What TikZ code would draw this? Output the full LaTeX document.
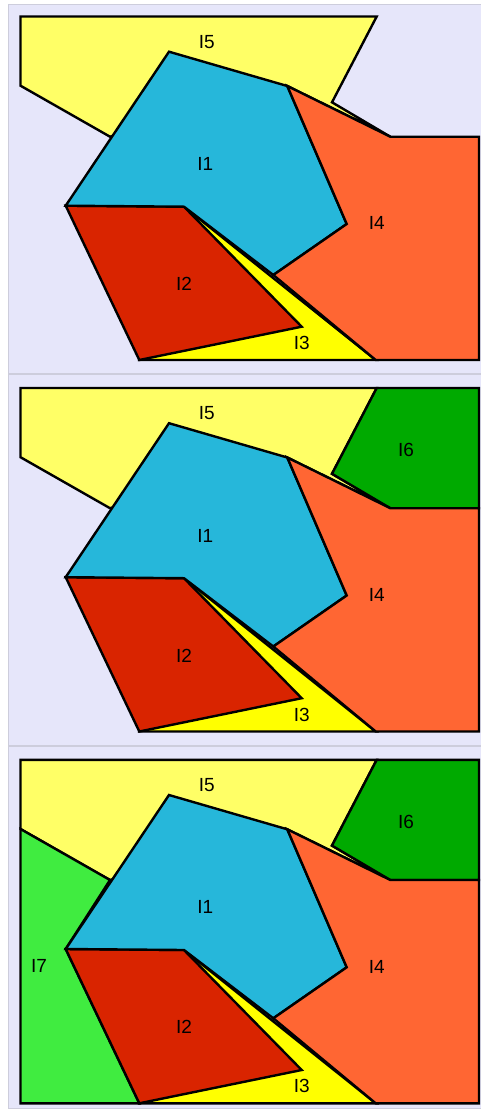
\documentclass[tikz,border=0pt]{standalone}
\usepackage{fontspec}
\setmainfont{Liberation Sans}
\definecolor{panelbg}{RGB}{230,230,250}
\definecolor{panelrule}{RGB}{205,205,220}
\definecolor{cI1}{RGB}{38,183,218}
\definecolor{cI2}{RGB}{217,36,0}
\definecolor{cI3}{RGB}{255,255,0}
\definecolor{cI4}{RGB}{255,102,51}
\definecolor{cI5}{RGB}{255,255,102}
\definecolor{cI6}{RGB}{0,170,0}
\definecolor{cI7}{RGB}{64,236,64}
\tikzset{
  region/.style={draw=black, line width=2.4pt, fill=#1},
  lbl/.style={inner sep=0pt, font=\fontsize{19}{19}\selectfont},
  panel/.style={fill=panelbg, draw=panelrule, line width=0.8pt}
}
\newcommand\regionI[1]{\draw[region=cI1] (169,51.7) -- (287.3,86) -- (346.7,224) -- (273.3,275) -- (184,206.7) -- (65.7,205.7) -- cycle;}
\newcommand\regionII{\draw[region=cI2] (65.7,205.7) -- (184,206.7) -- (301.7,326.7) -- (139.3,360) -- cycle;}
\newcommand\regionIII{\draw[region=cI3] (184,206.7) -- (375.7,360) -- (139.3,360) -- cycle;}
\newcommand\regionIV{\draw[region=cI4] (287.3,86) -- (390.3,136.7) -- (479,136.7) -- (479,360) -- (375.7,360) -- (273.3,275) -- (346.7,224) -- cycle;}
\newcommand\regionV{\draw[region=cI5] (20.5,16.5) -- (376.7,16.5) -- (332,102.3) -- (390.3,136.7) -- (287.3,86) -- (110,136.7) -- (20.5,85.7) -- cycle;}
\newcommand\regionVI{\draw[region=cI6] (376.7,16.5) -- (479,16.5) -- (479,136.7) -- (390.3,136.7) -- (332,102.3) -- cycle;}
\newcommand\regionVII{\draw[region=cI7] (20.5,85.7) -- (110,136.7) -- (65.7,205.7) -- (139.3,360) -- (20.5,360) -- cycle;}
\newcommand\baselabels[1]{
  \node[lbl] (l5#1) at (206.7,41.7) {I5};
  \node[lbl] (l1#1) at (205.3,164) {I1};
  \node[lbl] (l4#1) at (376.7,223.3) {I4};
  \node[lbl] (l2#1) at (184,284) {I2};
  \node[lbl] (l3#1) at (301.7,343) {I3};
}
\begin{document}
\begin{tikzpicture}[x=1pt,y=-1pt]
\useasboundingbox (0,0) rectangle (481,1111);
\fill[white] (0,0) rectangle (481,1111);
% panel backgrounds
\draw[panel] (8,4) rectangle (482,373.5);
\draw[panel] (8,374.8) rectangle (482,745.2);
\draw[panel] (8,746.5) rectangle (482,1108.5);
% panel 1
\begin{scope}
  \regionV
  \regionIII
  \regionII
  \regionI{}
  \regionIV
  \baselabels{a}
\end{scope}
% panel 2
\begin{scope}[shift={(0,371.5)}]
  \regionV
  \regionVI
  \regionIII
  \regionII
  \regionI{}
  \regionIV
  \baselabels{b}
  \node[lbl] (l6b) at (406,78.7) {I6};
\end{scope}
% panel 3
\begin{scope}[shift={(0,743.3)}]
  \regionV
  \regionVI
  \regionVII
  \regionIII
  \regionII
  \regionI{}
  \regionIV
  \baselabels{c}
  \node[lbl] (l6c) at (406,78.7) {I6};
  \node[lbl] (l7c) at (39,223) {I7};
\end{scope}
\end{tikzpicture}
\end{document}
